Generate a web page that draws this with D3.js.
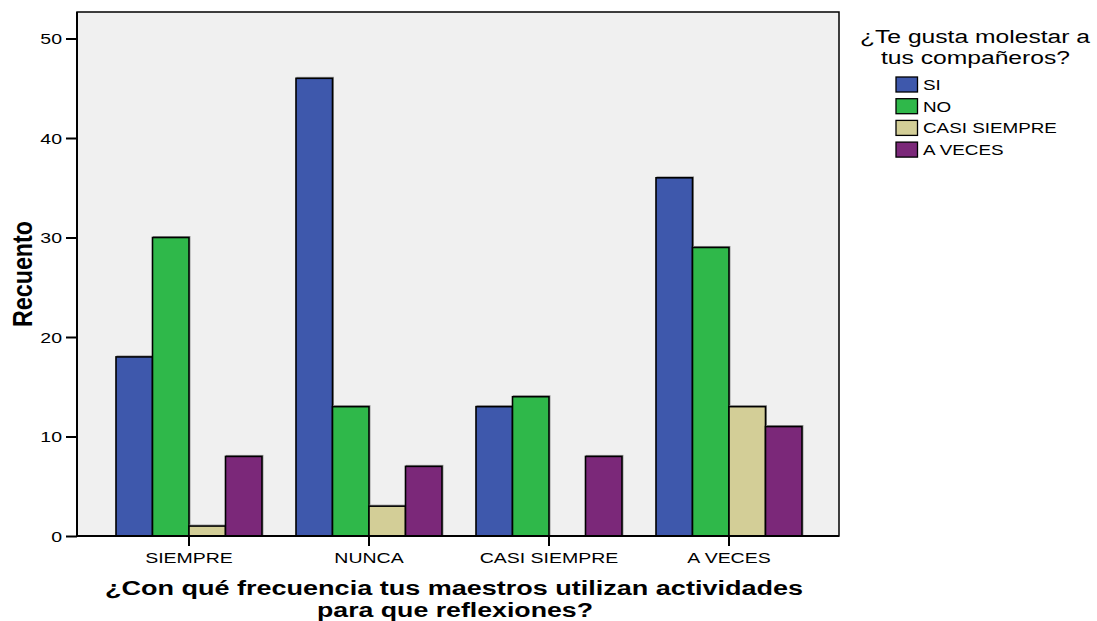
<!DOCTYPE html>
<html><head><meta charset="utf-8">
<script src="https://cdn.jsdelivr.net/npm/d3@7"></script>
<style>body{margin:0;background:#fff;}text{font-family:"Liberation Sans",Arial,sans-serif;}</style>
</head><body>
<svg id="chart" width="1097" height="621"></svg>
<script>
const categories = ["SIEMPRE", "NUNCA", "CASI SIEMPRE", "A VECES"];
const seriesNames = ["SI", "NO", "CASI SIEMPRE", "A VECES"];
const valuesSI = [18, 46, 13, 36];
const valuesNO = [30, 13, 14, 29];
const valuesCasiSiempre = [1, 3, 0, 13];
const valuesAVeces = [8, 7, 8, 11];
const colors = ["#3e58ac", "#2fb84a", "#d3ce97", "#7b2879"];
const yTicks = [0, 10, 20, 30, 40, 50];

const seriesValues = [valuesSI, valuesNO, valuesCasiSiempre, valuesAVeces];
const svg = d3.select("#chart");
const L = 77, R = 839, T = 12, B = 536;
const SX = 1.3; // horizontal stretch of the lettering

const y = d3.scaleLinear().domain([0, 50]).range([B, 38.5]);
const x = d3.scaleBand().domain(categories).range([L + 22, R - 20]).paddingInner(0).paddingOuter(0);
const xs = d3.scaleBand().domain(seriesNames).range([17, x.bandwidth() - 17]);

svg.append("rect").attr("x", L).attr("y", T).attr("width", R - L).attr("height", B - T)
  .attr("fill", "#f0f0f0").attr("stroke", "#000").attr("stroke-width", 1.5);

const g = svg.append("g");
categories.forEach((c, ci) => {
  seriesNames.forEach((s, si) => {
    const v = seriesValues[si][ci];
    if (v <= 0) return;
    const bx = x(c) + xs(s), bw = xs.bandwidth();
    g.append("rect").attr("x", bx + 1).attr("y", y(v) - 1).attr("width", bw).attr("height", B - y(v) + 1)
      .attr("fill", "none").attr("stroke", "#999").attr("stroke-width", 1);
    g.append("rect").attr("x", bx).attr("y", y(v)).attr("width", bw).attr("height", B - y(v))
      .attr("fill", colors[si]).attr("stroke", "#000").attr("stroke-width", 1.6);
  });
});

// axes
const yAxis = d3.axisLeft(y).tickValues(yTicks).tickSize(11).tickPadding(3);
const ya = svg.append("g").attr("transform", `translate(${L},0)`).call(yAxis);
ya.select(".domain").remove();
ya.selectAll("line").attr("stroke", "#000").attr("stroke-width", 2);
ya.selectAll("text").attr("font-size", 15).attr("fill", "#000")
  .attr("x", 0).attr("dy", "0.36em").attr("transform", `translate(-15,0) scale(${SX},1)`);

const xAxis = d3.axisBottom(x).tickSize(10).tickPadding(5);
const xa = svg.append("g").attr("transform", `translate(0,${B})`).call(xAxis);
xa.select(".domain").remove();
xa.selectAll("line").attr("stroke", "#000").attr("stroke-width", 2);
xa.selectAll("text").attr("font-size", 15).attr("fill", "#000")
  .attr("y", 0).attr("dy", 0).attr("transform", `translate(0,27) scale(${SX},1)`);

svg.append("line").attr("x1", L).attr("x2", R).attr("y1", B).attr("y2", B).attr("stroke", "#000").attr("stroke-width", 2);
svg.append("line").attr("x1", L).attr("x2", L).attr("y1", T).attr("y2", B).attr("stroke", "#000").attr("stroke-width", 2);

// titles
svg.append("text").attr("transform", `translate(32,274) scale(1.25,1) rotate(-90)`)
  .attr("text-anchor", "middle").attr("font-size", 22).attr("font-weight", "bold")
  .attr("textLength", 106).attr("lengthAdjust", "spacingAndGlyphs").text("Recuento");
svg.append("text").attr("x", 454).attr("y", 595).attr("text-anchor", "middle")
  .attr("font-size", 20).attr("font-weight", "bold")
  .attr("textLength", 698).attr("lengthAdjust", "spacingAndGlyphs")
  .text("¿Con qué frecuencia tus maestros utilizan actividades");
svg.append("text").attr("x", 455).attr("y", 617).attr("text-anchor", "middle")
  .attr("font-size", 20).attr("font-weight", "bold")
  .attr("textLength", 276).attr("lengthAdjust", "spacingAndGlyphs")
  .text("para que reflexiones?");

// legend
svg.append("text").attr("x", 975).attr("y", 43).attr("text-anchor", "middle").attr("font-size", 18)
  .attr("textLength", 230).attr("lengthAdjust", "spacingAndGlyphs").text("¿Te gusta molestar a");
svg.append("text").attr("x", 975.5).attr("y", 64).attr("text-anchor", "middle").attr("font-size", 18)
  .attr("textLength", 189).attr("lengthAdjust", "spacingAndGlyphs").text("tus compañeros?");
const lg = svg.append("g");
seriesNames.forEach((s, i) => {
  const yy = 77 + i * 21.7;
  lg.append("rect").attr("x", 896).attr("y", yy).attr("width", 21.5).attr("height", 15)
    .attr("fill", colors[i]).attr("stroke", "#000").attr("stroke-width", 1.3);
  lg.append("text").attr("x", 0).attr("y", 0).attr("font-size", 14.5)
    .attr("transform", `translate(923,${yy + 13}) scale(${SX},1)`).text(s);
});
</script>
</body></html>
